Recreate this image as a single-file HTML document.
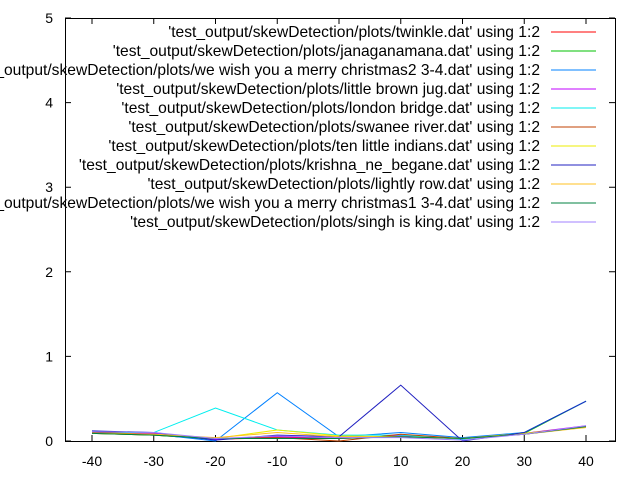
<!DOCTYPE html>
<html><head><meta charset="utf-8"><style>
body{margin:0;background:#fff;font-family:"Liberation Sans",sans-serif}
svg text{font-family:"Liberation Sans",sans-serif;font-size:14px;fill:#000}
svg text.leg{font-size:15.6px}
</style></head><body>
<svg id="chart" width="640" height="480"></svg>
<script>
const xs=[-40,-30,-20,-10,0,10,20,30,40];
const names=["twinkle","janaganamana","we wish you a merry christmas2 3-4","little brown jug","london bridge","swanee river","ten little indians","krishna_ne_begane","lightly row","we wish you a merry christmas1 3-4","singh is king"];
const colors=["#ff0000","#00c000","#0080ff","#c000ff","#00eeee","#c04000","#eeee00","#2020c0","#ffc020","#008040","#a080ff"];
const s0=[0.09,0.07,0.02,0.04,0.03,0.06,0.03,0.08,0.17];
const s1=[0.09,0.07,0.02,0.05,0.04,0.05,0.03,0.09,0.47];
const s2=[0.09,0.08,0.0,0.57,0.05,0.1,0.04,0.1,0.47];
const s3=[0.1,0.09,0.02,0.05,0.04,0.06,0.03,0.09,0.18];
const s4=[0.1,0.1,0.39,0.13,0.07,0.07,0.02,0.1,0.47];
const s5=[0.1,0.08,0.03,0.04,0.0,0.08,0.03,0.09,0.17];
const s6=[0.09,0.08,0.03,0.13,0.06,0.05,0.03,0.09,0.16];
const s7=[0.12,0.1,0.01,0.07,0.05,0.66,0.0,0.1,0.47];
const s8=[0.09,0.08,0.04,0.1,0.05,0.05,0.03,0.08,0.16];
const s9=[0.09,0.07,0.03,0.03,0.03,0.05,0.03,0.08,0.17];
const s10=[0.11,0.1,0.03,0.06,0.04,0.04,0.01,0.08,0.18];
const series=[s0,s1,s2,s3,s4,s5,s6,s7,s8,s9,s10];
const xTicks=[-40,-30,-20,-10,0,10,20,30,40];
const yTicks=[0,1,2,3,4,5];
const L=65,R=615,T=18,B=441;
const X=v=>92+(v+40)*(586-92)/80;
const Y=v=>B-v*(B-T)/5;
const svg=document.getElementById('chart');
const NS='http://www.w3.org/2000/svg';
function mk(t,a){const e=document.createElementNS(NS,t);for(const k in a)e.setAttribute(k,a[k]);svg.appendChild(e);return e;}
const frame=mk('rect',{x:L+0.5,y:T+0.5,width:R-L,height:B-T,fill:'none',stroke:'#000','stroke-width':1});


xTicks.forEach(t=>{
 const l=mk('path',{d:`M${X(t)},${B}v-6M${X(t)},${T}v6`,stroke:'#000'});
 
 
 const tx=mk('text',{x:X(t),y:B+25,'text-anchor':'middle'});tx.textContent=t;
 
 
});
yTicks.forEach(t=>{
 const l=mk('path',{d:`M${L},${Y(t)}h6M${R},${Y(t)}h-6`,stroke:'#000'});
 
 
 const tx=mk('text',{x:L-12,y:Y(t)+5,'text-anchor':'end'});tx.textContent=t;
 
 
});
series.forEach((s,i)=>{
 const p=mk('polyline',{points:s.map((v,j)=>X(xs[j])+','+Y(v)).join(' '),fill:'none',stroke:colors[i],'stroke-width':1});
 
 
 const y=32+i*19;
 const tx=mk('text',{x:540,y:y+5,'text-anchor':'end','class':'leg'});
 tx.textContent="'test_output/skewDetection/plots/"+names[i]+".dat' using 1:2";
 
 
 const ll=mk('line',{x1:551,x2:596,y1:y,y2:y,stroke:colors[i]});
 
 
});
</script>
</body></html>
